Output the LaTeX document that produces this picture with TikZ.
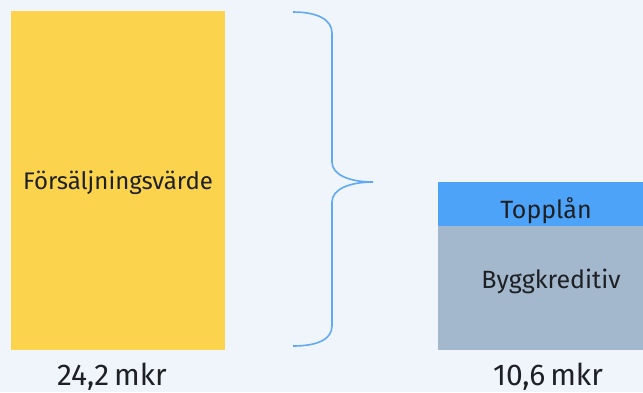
\documentclass[tikz,border=0pt]{standalone}
\usepackage{fontspec}
\setmainfont{Fira Sans}
\definecolor{bakgrund}{RGB}{240,245,252}
\definecolor{gul}{RGB}{252,211,77}
\definecolor{toppbla}{RGB}{77,163,247}
\definecolor{gra}{RGB}{163,184,204}
\definecolor{klammer}{RGB}{96,170,245}
\definecolor{text}{RGB}{30,32,36}
\tikzset{
  etikett/.style={anchor=base, text=text, inner sep=0pt},
  belopp/.style={etikett, font=\fontsize{30}{33}\selectfont}
}
\begin{document}
\begin{tikzpicture}[x=1pt,y=-1pt]
\useasboundingbox (0,0) rectangle (643,392);
\fill[bakgrund] (0,0) rectangle (643,392);

\begin{scope}
% försäljning
\fill[gul] (11,11) rectangle (225,350);
\node[etikett, font=\fontsize{24}{27}\selectfont] (forsalj) at (118,189) {Försäljningsvärde};
\node[belopp] (summa) at (112,385) {24,2\,mkr};
\end{scope}

% klammer
\draw[klammer, line width=1.6pt]
  (293,12) .. controls (318,12) and (332,20) .. (332,33)
  -- (332,162) .. controls (332,175) and (350,182) .. (373,182)
  .. controls (350,182) and (332,189) .. (332,202)
  -- (332,326) .. controls (332,339) and (318,346) .. (293,346);

\begin{scope}
% finansiering
\fill[toppbla] (438,182) rectangle (643,226);
\fill[gra] (438,226) rectangle (643,350);
\node[etikett, font=\fontsize{25}{28}\selectfont] (topplan) at (546,218) {Topplån};
\node[etikett, font=\fontsize{25}{28}\selectfont] (bygg) at (551,288) {Byggkreditiv};
\node[belopp] (lan) at (548,385) {10,6\,mkr};
\end{scope}

\end{tikzpicture}
\end{document}
